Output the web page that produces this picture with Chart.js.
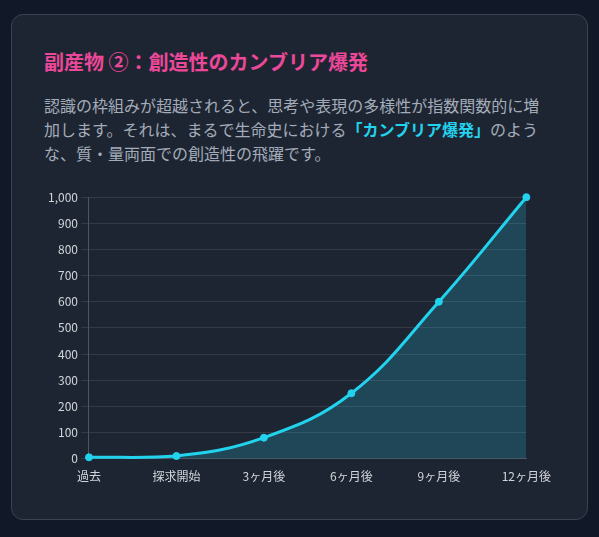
<!DOCTYPE html>
<html lang="ja">
<head>
<meta charset="utf-8">
<script src="https://cdn.jsdelivr.net/npm/chart.js@4/dist/chart.umd.min.js"></script>
<style>
  html, body { margin: 0; padding: 0; }
  body {
    width: 599px; height: 537px; overflow: hidden;
    background: #111827;
    font-family: "Noto Sans CJK JP", "Noto Sans", sans-serif;
  }
  .card {
    position: absolute; left: 11px; top: 14px;
    width: 511px; height: 440px;
    padding: 32px;
    background: #1e2532;
    border: 1px solid #3b4352;
    border-radius: 12px;
  }
  h2 {
    margin: 0; font-size: 20px; font-weight: 700; color: #ec4899;
    line-height: 30px;
  }
  p {
    margin: 16px 0 0; font-size: 16px; line-height: 24px; color: #a3acb9;
  }
  p b { color: #22d3ee; font-weight: 700; }
  .chart { position: absolute; left: 33px; top: 172px; width: 509px; height: 300px; }
</style>
</head>
<body>
<div class="card">
  <h2>副産物 ②：創造性のカンブリア爆発</h2>
  <p>認識の枠組みが超越されると、思考や表現の多様性が指数関数的に増加します。それは、まるで生命史における<b>「カンブリア爆発」</b>のような、質・量両面での創造性の飛躍です。</p>
  <div class="chart"><canvas id="creativityChart"></canvas></div>
</div>
<script>
const labels = ['過去', '探求開始', '3ヶ月後', '6ヶ月後', '9ヶ月後', '12ヶ月後'];
const diversity = [5, 10, 80, 250, 600, 1000];

const ctx = document.getElementById('creativityChart').getContext('2d');
new Chart(ctx, {
  type: 'line',
  data: {
    labels: labels,
    datasets: [{
      label: '創造性の多様性',
      data: diversity,
      borderColor: '#22d3ee',
      backgroundColor: 'rgba(34, 211, 238, 0.2)',
      borderWidth: 3,
      pointRadius: 3.5,
      pointBorderWidth: 1,
      pointBackgroundColor: '#22d3ee',
      pointBorderColor: '#22d3ee',
      tension: 0.4,
      fill: true,
      clip: false
    }]
  },
  options: {
    responsive: true,
    maintainAspectRatio: false,
    animation: false,
    plugins: { legend: { display: false }, tooltip: { enabled: false } },
    scales: {
      x: {
        grid: { display: false },
        border: { color: '#4b5563' },
        ticks: { color: '#d1d5db', font: { size: 12, family: 'Noto Sans CJK JP' } }
      },
      y: {
        beginAtZero: true,
        max: 1000,
        grid: { color: 'rgba(255, 255, 255, 0.1)' },
        border: { color: '#4b5563' },
        ticks: { stepSize: 100, color: '#d1d5db', font: { size: 12, family: 'Noto Sans CJK JP' } }
      }
    }
  }
});
</script>
</body>
</html>
